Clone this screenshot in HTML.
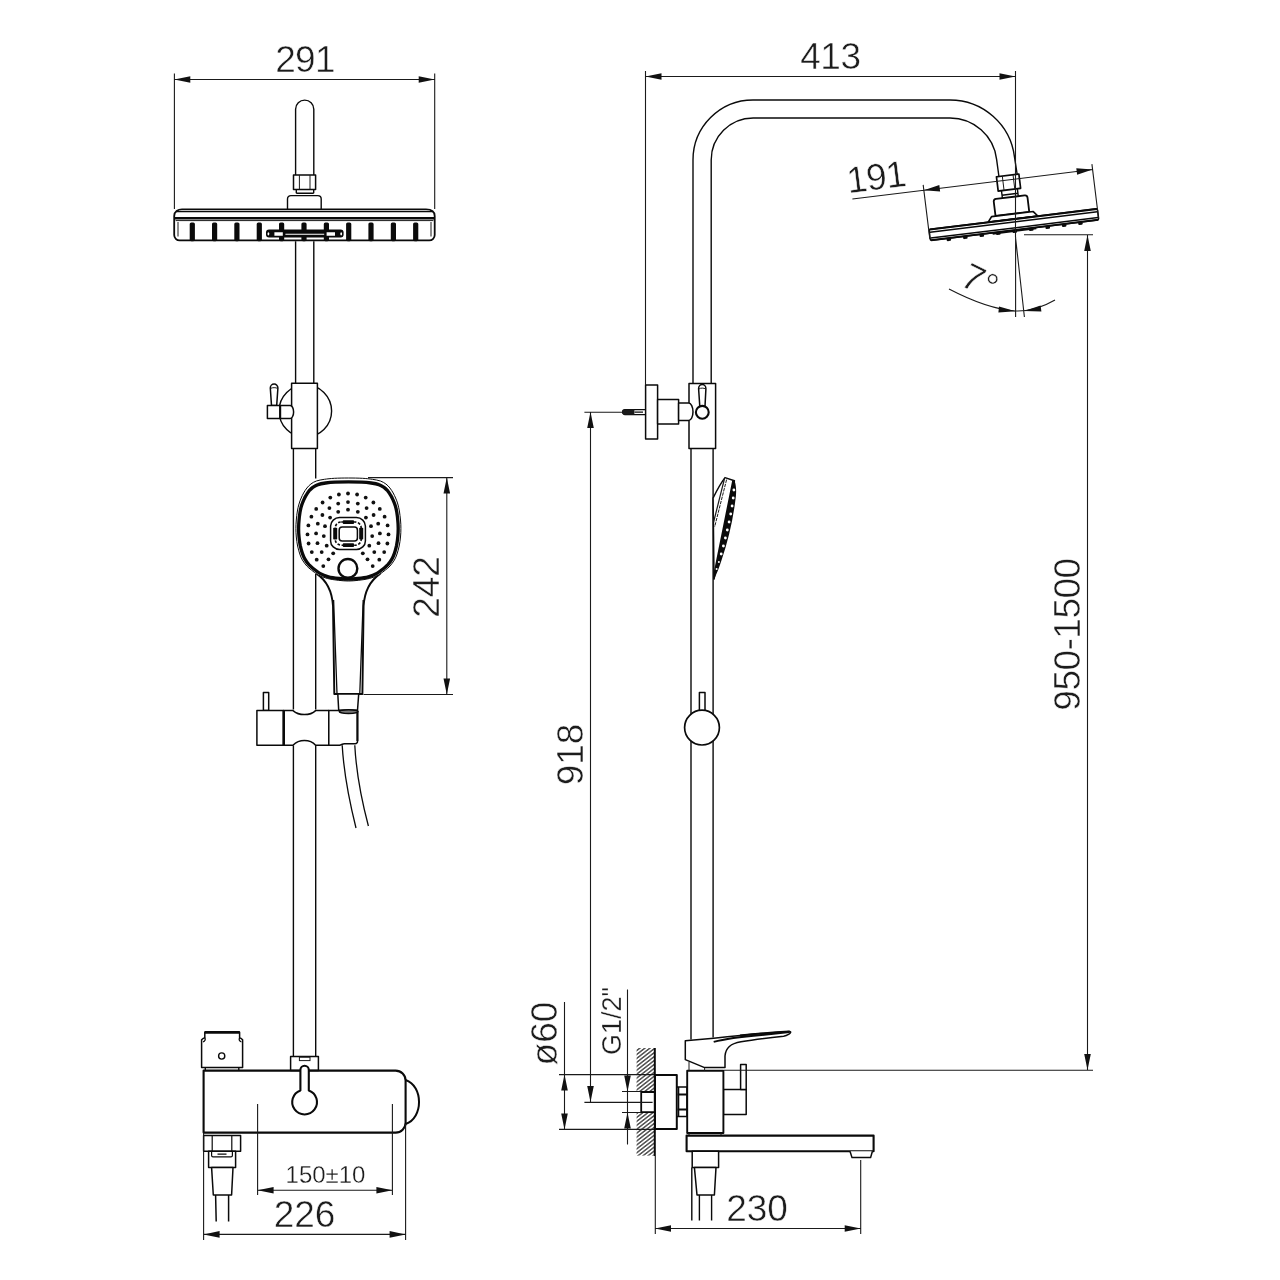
<!DOCTYPE html>
<html lang="en">
<head>
<meta charset="utf-8">
<title>Shower system dimensions</title>
<style>
html,body{margin:0;padding:0;background:#fff;}
body{width:1280px;height:1280px;overflow:hidden;font-family:"Liberation Sans",sans-serif;}
svg{display:block;width:1280px;height:1280px;filter:grayscale(1);}
.o{fill:none;stroke:#0a0a0a;stroke-width:1.4;stroke-linejoin:round;stroke-linecap:butt;}
.w{fill:#fff;stroke:#0a0a0a;stroke-width:1.5;stroke-linejoin:round;}
.k{fill:none;stroke:#0a0a0a;stroke-width:2.3;stroke-linejoin:round;}
.n{fill:none;stroke:#1a1a1a;stroke-width:1;}
.d{fill:none;stroke:#1a1a1a;stroke-width:1.1;}
.a{fill:#111;stroke:none;}
text{font-family:"Liberation Sans",sans-serif;fill:#1c1c1c;stroke:#fff;stroke-width:.5px;}
.b{font-size:37px;}
.s{font-size:24px;stroke-width:.3px;}
</style>
</head>
<body>
<svg width="1280" height="1280" viewBox="0 0 1280 1280">
<rect width="1280" height="1280" fill="#fff"/>
<!-- ===== LEFT VIEW : overhead shower ===== -->
<g id="left-head">
<path class="o" d="M295.6,175V109.2a9.1,9.1 0 0 1 18.2,0V175"/>
<rect class="w" x="293.5" y="175" width="22.1" height="14.4"/>
<path class="n" d="M299.4,175v14.4M310,175v14.4"/>
<path class="o" d="M296.3,189.4V193.3M313.7,189.4V193.3M296.3,193.3H313.7"/>
<path class="o" d="M287.5,209.4V199a3.4,3.4 0 0 1 3.4,-3.4H317.8a3.4,3.4 0 0 1 3.4,3.4V209.4"/>
<path class="w" style="stroke-width:1.8" d="M182,209.4H426C431,209.4 434.7,211.6 434.7,216V235a5.4,5.4 0 0 1 -5.4,5.4H179.6a5.4,5.4 0 0 1 -5.4,-5.4V216C174.2,211.6 178,209.4 182,209.4Z"/>
<path class="o" style="stroke-width:1.2" d="M176.4,211.6H432.6"/>
<path class="k" style="stroke-width:2.4" d="M174.6,218.2H434.2"/>
<path class="n" d="M175.6,220.6H433.4M178,222V236.5M431,222V236.5"/>
<g fill="#0a0a0a"><rect x="189.7" y="222.4" width="5.2" height="18.8" rx="1.6"/><rect x="212.0" y="222.4" width="5.2" height="18.8" rx="1.6"/><rect x="234.3" y="222.4" width="5.2" height="18.8" rx="1.6"/><rect x="256.7" y="222.4" width="5.2" height="18.8" rx="1.6"/><rect x="279.0" y="222.4" width="5.2" height="18.8" rx="1.6"/><rect x="301.4" y="222.4" width="5.2" height="18.8" rx="1.6"/><rect x="323.8" y="222.4" width="5.2" height="18.8" rx="1.6"/><rect x="346.1" y="222.4" width="5.2" height="18.8" rx="1.6"/><rect x="368.4" y="222.4" width="5.2" height="18.8" rx="1.6"/><rect x="390.8" y="222.4" width="5.2" height="18.8" rx="1.6"/><rect x="413.1" y="222.4" width="5.2" height="18.8" rx="1.6"/></g>
<rect x="266" y="229.4" width="77.6" height="8.2" rx="3" fill="#0a0a0a"/>
<path d="M274.4,232.2h8.4v3.6h-8.4ZM326.6,232.2h8.4v3.6h-8.4ZM285.4,233.8h38.8v.9h-38.8Z" fill="#fff"/>
<ellipse cx="268.4" cy="233.8" rx=".9" ry="1.6" fill="#fff"/><ellipse cx="341.2" cy="233.8" rx=".9" ry="1.6" fill="#fff"/>
<path class="o" d="M295.6,241.2V383M313.8,241.2V383"/>
</g>
<g id="left-bracket">
<circle class="o" cx="305.3" cy="411" r="26.3"/>
<rect class="w" x="291.6" y="383.2" width="25.8" height="65.4"/>
<path class="w" d="M271.5,405.4L270.3,388a3.8,3.9 0 0 1 7.6,0L276.7,405.4Z"/>
<path class="n" d="M270.6,388.4C272.5,387.4 275.7,387.4 277.6,388.4"/>
<rect class="w" x="267.4" y="405.4" width="12.8" height="13"/>
<path class="w" d="M280.2,405.4H290.2a3.4,6.5 0 0 1 0,13H280.2Z"/>
<path class="k" style="stroke-width:2" d="M280.2,405.4V418.4"/>
<path class="o" d="M293.4,448.6V709.5M315.7,448.6V478.5M315.7,574V709.5M293.4,745.5V1056.4M315.7,745.5V1056.4"/>
</g>
<!-- ===== LEFT VIEW : hand shower ===== -->
<g id="left-hand">
<path fill="#fff" d="M318,575H379L364,600L362.5,694H334L333,600Z"/>
<path class="o" style="stroke-width:1.9" d="M316.5,573.6C326,580 332,589 333,606L334.3,694H362.4L363.6,606C364.6,589 371,580 380.3,573.6"/>
<path class="o" style="stroke-width:1.3" d="M333.6,600L337,693.5M363.2,600L359.8,693.5"/>
<path class="w" style="stroke-width:1" d="M348.4,478.0C353.1,478.0 358.4,478.1 362.4,478.3C366.4,478.5 369.4,478.9 372.4,479.3C375.4,479.8 378.1,480.2 380.4,481.0C382.6,481.8 384.3,482.8 385.9,484.0C387.5,485.2 388.7,486.5 389.9,488.0C391.1,489.5 392.2,491.3 393.2,493.0C394.1,494.7 394.8,496.2 395.6,498.0C396.4,499.8 397.2,501.8 397.8,504.0C398.4,506.2 398.9,508.3 399.4,511.0C399.8,513.7 400.2,517.1 400.5,520.0C400.8,522.9 400.9,525.7 400.9,528.5C400.9,531.3 400.8,534.1 400.5,537.0C400.2,539.9 399.8,543.2 399.2,546.0C398.6,548.8 397.8,551.7 397.0,554.0C396.2,556.3 395.6,558.0 394.4,560.0C393.2,562.0 391.5,564.3 390.0,566.0C388.5,567.7 387.3,568.5 385.4,570.0C383.5,571.5 381.1,573.6 378.4,575.0C375.7,576.4 372.7,577.6 369.4,578.5C366.1,579.4 361.9,579.9 358.4,580.3C354.9,580.7 351.7,581.0 348.4,581.0C345.1,581.0 341.9,580.7 338.4,580.3C334.9,579.9 330.7,579.4 327.4,578.5C324.1,577.6 321.1,576.4 318.4,575.0C315.7,573.6 313.3,571.5 311.4,570.0C309.5,568.5 308.3,567.7 306.8,566.0C305.3,564.3 303.6,562.0 302.4,560.0C301.2,558.0 300.6,556.3 299.8,554.0C299.0,551.7 298.2,548.8 297.6,546.0C297.0,543.2 296.6,539.9 296.3,537.0C296.0,534.1 295.9,531.3 295.9,528.5C295.9,525.7 296.0,522.9 296.3,520.0C296.5,517.1 296.9,513.7 297.4,511.0C297.8,508.3 298.4,506.2 299.0,504.0C299.6,501.8 300.4,499.8 301.2,498.0C302.0,496.2 302.6,494.7 303.6,493.0C304.5,491.3 305.7,489.5 306.9,488.0C308.1,486.5 309.3,485.2 310.9,484.0C312.5,482.8 314.1,481.8 316.4,481.0C318.6,480.2 321.4,479.8 324.4,479.3C327.4,478.9 330.4,478.5 334.4,478.3C338.4,478.1 343.7,478.0 348.4,478.0Z"/>
<path class="o" style="stroke-width:3.3" d="M348.4,481.8C352.8,481.8 357.9,481.9 361.7,482.1C365.5,482.3 368.3,482.6 371.2,483.0C374.0,483.4 376.6,483.8 378.8,484.6C380.9,485.3 382.5,486.3 384.0,487.3C385.5,488.4 386.6,489.7 387.8,491.0C388.9,492.4 390.0,494.1 390.9,495.7C391.8,497.2 392.4,498.6 393.2,500.3C393.9,502.0 394.7,503.8 395.3,505.8C395.9,507.8 396.4,509.9 396.8,512.3C397.2,514.8 397.6,517.9 397.8,520.6C398.1,523.3 398.2,525.8 398.2,528.5C398.2,531.2 398.1,533.9 397.8,536.7C397.6,539.5 397.1,542.7 396.6,545.4C396.0,548.1 395.3,550.9 394.5,553.1C393.7,555.4 393.1,557.0 392.0,558.9C390.9,560.9 389.3,563.1 387.9,564.7C386.4,566.3 385.3,567.1 383.5,568.6C381.7,570.0 379.4,572.0 376.9,573.4C374.3,574.8 371.5,575.9 368.3,576.8C365.2,577.6 361.2,578.1 357.9,578.5C354.6,578.9 351.6,579.2 348.4,579.2C345.2,579.2 342.2,578.9 338.9,578.5C335.6,578.1 331.6,577.6 328.5,576.8C325.3,575.9 322.5,574.8 319.9,573.4C317.4,572.0 315.1,570.0 313.3,568.6C311.5,567.1 310.4,566.3 308.9,564.7C307.5,563.1 305.9,560.9 304.8,558.9C303.7,557.0 303.1,555.4 302.3,553.1C301.5,550.9 300.8,548.1 300.2,545.4C299.7,542.7 299.2,539.5 299.0,536.7C298.7,533.9 298.6,531.2 298.6,528.5C298.6,525.8 298.7,523.3 299.0,520.6C299.2,517.9 299.6,514.8 300.0,512.3C300.4,509.9 300.9,507.8 301.5,505.8C302.1,503.8 302.9,502.0 303.6,500.3C304.4,498.6 305.0,497.2 305.9,495.7C306.8,494.1 307.9,492.4 309.0,491.0C310.2,489.7 311.3,488.4 312.8,487.3C314.3,486.3 315.9,485.3 318.0,484.6C320.2,483.8 322.8,483.4 325.6,483.0C328.5,482.6 331.3,482.3 335.1,482.1C338.9,481.9 344.0,481.8 348.4,481.8Z"/>
<g fill="#111"><circle cx="323.3" cy="566.1" r="1.9"/><circle cx="316.7" cy="559.7" r="1.9"/><circle cx="311.8" cy="552.1" r="1.9"/><circle cx="308.6" cy="543.5" r="1.9"/><circle cx="307.5" cy="534.4" r="1.9"/><circle cx="308.4" cy="525.4" r="1.9"/><circle cx="311.4" cy="516.7" r="1.9"/><circle cx="316.2" cy="508.9" r="1.9"/><circle cx="322.6" cy="502.5" r="1.9"/><circle cx="330.3" cy="497.6" r="1.9"/><circle cx="338.9" cy="494.5" r="1.9"/><circle cx="348.0" cy="493.5" r="1.9"/><circle cx="357.1" cy="494.5" r="1.9"/><circle cx="365.7" cy="497.6" r="1.9"/><circle cx="373.4" cy="502.5" r="1.9"/><circle cx="379.8" cy="508.9" r="1.9"/><circle cx="384.6" cy="516.7" r="1.9"/><circle cx="387.6" cy="525.4" r="1.9"/><circle cx="388.5" cy="534.4" r="1.9"/><circle cx="387.4" cy="543.5" r="1.9"/><circle cx="384.2" cy="552.1" r="1.9"/><circle cx="379.3" cy="559.7" r="1.9"/><circle cx="372.7" cy="566.1" r="1.9"/><circle cx="328.5" cy="559.3" r="1.9"/><circle cx="321.7" cy="552.1" r="1.9"/><circle cx="317.5" cy="543.2" r="1.9"/><circle cx="316.1" cy="533.4" r="1.9"/><circle cx="317.8" cy="523.7" r="1.9"/><circle cx="322.4" cy="515.0" r="1.9"/><circle cx="329.4" cy="508.1" r="1.9"/><circle cx="338.2" cy="503.6" r="1.9"/><circle cx="348.0" cy="502.1" r="1.9"/><circle cx="357.8" cy="503.6" r="1.9"/><circle cx="366.6" cy="508.1" r="1.9"/><circle cx="373.6" cy="515.0" r="1.9"/><circle cx="378.2" cy="523.7" r="1.9"/><circle cx="379.9" cy="533.4" r="1.9"/><circle cx="378.5" cy="543.2" r="1.9"/><circle cx="374.3" cy="552.1" r="1.9"/><circle cx="367.5" cy="559.3" r="1.9"/><circle cx="333.2" cy="553.3" r="1.9"/><circle cx="326.7" cy="545.7" r="1.9"/><circle cx="323.8" cy="536.1" r="1.9"/><circle cx="325.0" cy="526.2" r="1.9"/><circle cx="330.1" cy="517.6" r="1.9"/><circle cx="338.2" cy="511.8" r="1.9"/><circle cx="348.0" cy="509.7" r="1.9"/><circle cx="357.8" cy="511.8" r="1.9"/><circle cx="365.9" cy="517.6" r="1.9"/><circle cx="371.0" cy="526.2" r="1.9"/><circle cx="372.2" cy="536.1" r="1.9"/><circle cx="369.3" cy="545.7" r="1.9"/><circle cx="362.8" cy="553.3" r="1.9"/></g>
<rect class="w" x="330.6" y="517.6" width="34.8" height="31.8" rx="9" ry="8.5"/>
<g fill="#0a0a0a">
<rect x="342.8" y="520.2" width="11.2" height="3.8" rx=".8"/><rect x="342.8" y="543.2" width="11.2" height="3.8" rx=".8"/>
<rect x="333.2" y="527.8" width="4" height="11.8" rx=".8"/><rect x="359.2" y="527.8" width="4" height="11.8" rx=".8"/>
</g>
<rect fill="none" stroke="#0a0a0a" stroke-width="1.6" stroke-dasharray="2.6 1.6" x="335.2" y="522" width="26" height="23.2" rx="6"/>
<rect class="w" x="339.2" y="527" width="18.2" height="14" rx="3"/>
<circle class="w" style="stroke-width:2.4" cx="347.9" cy="568.4" r="9.4"/>
<path class="w" d="M337.8,694L338.7,710.2H357.5L358.7,694Z"/>
</g>
<g id="left-slider">
<rect class="w" x="263.4" y="692.5" width="5.3" height="18.1"/>
<rect class="w" x="256.9" y="710.6" width="26.8" height="34.6"/>
<path class="w" d="M283.7,710.6H293C297,714.2 301,714.6 304.4,714.6C308,714.6 312,714.2 315.6,710.6H328.8V745.2H315.6C312,741.2 308,740.6 304.4,740.6C301,740.6 297,741.2 293,745.2H283.7Z"/>
<path class="k" style="stroke-width:2.6" d="M283.7,710.6V745.2"/>
<path class="w" d="M328.8,710.6H357.5V741.5a2.2,2.2 0 0 1 -2.2,2.2H344.5C342,743.7 341.5,745.2 339.5,745.2H328.8Z"/>
<path class="k" style="stroke-width:2" d="M357.4,711V741"/>
<ellipse cx="348.6" cy="711.6" rx="9.3" ry="1.9" fill="#777" stroke="#0a0a0a" stroke-width="1.6"/>
<path class="o" style="stroke-width:1.3" d="M342.2,745.2C343.5,768 349,800 356,828M354.8,745.2C356,768 361.5,800 368.4,826"/>
</g>
<!-- ===== LEFT VIEW : mixer ===== -->
<g id="left-mixer">
<rect class="w" x="290.6" y="1056.4" width="27.8" height="14.2"/>
<rect class="n" x="299.4" y="1057.2" width="10.6" height="3.4"/>
<path class="k" style="stroke-width:2.1" d="M203.6,1070.6H395.6a10,10 0 0 1 10,10V1122.6a10,10 0 0 1 -10,10H203.6Z"/>
<path class="k" style="stroke-width:2" d="M405.6,1080C423.5,1086 423.5,1118 405.6,1124"/>
<path class="w" style="stroke-width:2.1" d="M300.4,1090.4V1070a4.2,4.2 0 0 1 8.4,0V1090.4A12.4,12.4 0 1 1 300.4,1090.4Z"/>
<path class="w" d="M204.8,1032.2H239.6V1037.8C240.6,1038 241.4,1038.6 242.6,1039.8V1067.6H201.6V1039.8C202.8,1038.6 203.6,1038 204.8,1037.8Z"/>
<path class="o" style="stroke-width:1.3" d="M204.8,1037.8C205.8,1039.4 205,1041.6 203,1041.8M239.6,1037.8C238.6,1039.4 239.4,1041.6 241.4,1041.8"/>
<path class="k" style="stroke-width:2.6" d="M204.6,1032.4H239.8"/>
<path class="o" d="M205.3,1067.6V1070.6M238.8,1067.6V1070.6"/>
<circle class="o" cx="221.7" cy="1056" r="3.1"/>
<rect class="w" x="203.6" y="1135.6" width="37" height="15.6"/>
<path class="o" style="stroke-width:1.2" d="M212.2,1135.6V1151.2M231.8,1135.6V1151.2"/>
<path class="w" d="M208.6,1151.2H235.6V1167.6H208.6Z"/>
<path class="o" style="stroke-width:1.2" d="M211.6,1151.6V1155.4a1.4,1.4 0 0 0 1.4,1.4H231a1.4,1.4 0 0 0 1.4,-1.4V1151.6M217.5,1154.2H226.5"/>
<path class="w" d="M211.6,1167.6L213.3,1195H231.6L233,1167.6Z"/>
<path class="o" style="stroke-width:1.5" d="M215.6,1195L216.2,1221.6M228.6,1195L228.6,1221.6"/>
</g>
<!-- ===== LEFT VIEW : dimensions ===== -->
<g id="left-dims">
<path class="d" d="M174.4,73.5V209M434.7,73.5V209M174.3,79.5H434.7"/>
<path class="a" d="M174.3,79.5l16,-3.3v6.6ZM434.7,79.5l-16,-3.3v6.6Z"/>
<text class="b" x="305" y="72" text-anchor="middle" letter-spacing="-.7">291</text>
<path class="d" d="M368,477.6H453M363.5,694.5H453M446.8,477.6V694.5"/>
<path class="a" d="M446.8,477.6l-3.3,16h6.6ZM446.8,694.5l-3.3,-16h6.6Z"/>
<text class="b" transform="translate(439.4,587) rotate(-90)" text-anchor="middle">242</text>
<path class="d" d="M257.6,1104V1195M392.4,1104V1195M257.6,1190.2H392.4"/>
<path class="a" d="M257.6,1190.2l16,-3.3v6.6ZM392.4,1190.2l-16,-3.3v6.6Z"/>
<text class="s" x="325.5" y="1183" text-anchor="middle">150±10</text>
<path class="d" d="M203.6,1132.6V1240M405.6,1124V1240M203.6,1234.4H405.6"/>
<path class="a" d="M203.6,1234.4l16,-3.3v6.6ZM405.6,1234.4l-16,-3.3v6.6Z"/>
<text class="b" x="304.6" y="1227" text-anchor="middle">226</text>
</g>
<!-- ===== RIGHT VIEW : riser, arm and overhead shower (side) ===== -->
<g id="right-arm">
<path class="o" d="M693,383.5V160A60,60 0 0 1 753,100H950A65,65 0 0 1 1014.5,157.1L1017.5,176.5"/>
<path class="o" d="M711.2,383.5V160A42,42 0 0 1 753.2,118H950A47,47 0 0 1 996.6,159.3L999,177"/>
</g>
<g id="right-head" transform="translate(1013.7,224.6) rotate(-7)">
<rect class="w" style="stroke-width:1.7" x="-11.3" y="-49.6" width="22.6" height="14.4"/>
<path class="n" d="M-5.4,-49.6v14.4M5.4,-49.6v14.4"/>
<path class="o" d="M-8,-35.2V-30.6H8V-35.2M-8,-30.6V-27.6M8,-30.6V-27.6"/>
<path class="w" style="stroke-width:1.8" d="M-17,-10.8V-25a2.6,2.6 0 0 1 2.6,-2.6H14.4a2.6,2.6 0 0 1 2.6,2.6V-10.8Z"/>
<path class="w" style="stroke-width:1.7" d="M-25,-5.6L-21,-10.6H21L25,-5.6Z"/>
<rect class="w" x="-84.6" y="-5.6" width="169.6" height="11.2" rx="1.4"/>
<path class="o" style="stroke-width:2" d="M-84,-5.3H84.6"/>
<path class="o" style="stroke-width:1.5" d="M-84,-2.6H84.6M-84,3.3H84.6"/>
<path class="o" style="stroke-width:1.9" d="M-84,5.5H84.6"/>
<path class="o" style="stroke-width:1.6" d="M-22,6.6H22"/>
<g fill="#0a0a0a"><rect x="-68.5" y="5.6" width="4.6" height="2.8" rx="1.2"/><rect x="-51.9" y="5.6" width="4.6" height="2.8" rx="1.2"/><rect x="-35.3" y="5.6" width="4.6" height="2.8" rx="1.2"/><rect x="-18.7" y="5.6" width="4.6" height="2.8" rx="1.2"/><rect x="-2.1" y="5.6" width="4.6" height="2.8" rx="1.2"/><rect x="14.5" y="5.6" width="4.6" height="2.8" rx="1.2"/><rect x="31.1" y="5.6" width="4.6" height="2.8" rx="1.2"/><rect x="47.7" y="5.6" width="4.6" height="2.8" rx="1.2"/><rect x="64.1" y="5.6" width="4.6" height="2.8" rx="1.2"/></g>
<!-- dimension 191 (aligned with the head) -->
<path class="d" d="M-157,-45H85M-85,-50.5V4M85,-50.5V4"/>
<path class="a" d="M-85,-45l16,-3.3v6.6ZM85,-45l-16,-3.3v6.6Z"/>
<text class="b" x="-131" y="-51.4" text-anchor="middle" letter-spacing="-1">191</text>
</g>
<g id="right-angle">
<path class="d" d="M1015.6,237V317M1015.6,238L1024.4,317"/>
<path class="d" d="M949,289C972,301 994,309.5 1015.6,311C1030,311.5 1043,307 1055,300"/>
<path class="a" d="M1015.6,311.2l-16.6,-4.6l-.6,6ZM1024,311l16.6,-5.4l.8,6Z"/>
<text class="b" transform="translate(958.4,284.6) rotate(27)">7°</text>
</g>
<!-- ===== RIGHT VIEW : wall bracket, hand shower (side), slider ===== -->
<g id="right-bracket">
<path class="o" d="M691,448.6V1039.5M713.1,448.6V1037.5"/>
<rect class="w" x="689" y="383.5" width="26.6" height="65.1"/>
<rect class="w" x="645.6" y="385" width="12" height="54"/>
<rect class="w" x="657.6" y="399.6" width="21" height="24.4"/>
<path class="w" d="M678.6,403H688.6a4.4,8.8 0 0 1 0,17.6H678.6Z"/>
<path class="w" d="M699.8,406.4L698.6,388.8a3.65,4.2 0 0 1 7.3,0L705,406.4Z"/>
<path class="n" d="M699,389C700.6,387.8 703.8,387.8 705.6,389"/>
<circle class="w" style="stroke-width:2.1" cx="702.3" cy="412.3" r="6.4"/>
<path class="o" style="stroke-width:1.1" d="M645.6,409.6H625a2.5,2.5 0 0 0 0,5H645.6M634.5,412.1H643"/>
<path d="M624.8,409.4h9.6v5.4H624.8a2.7,2.7 0 0 1 0,-5.4Z" fill="#1a1a1a"/>
</g>
<g id="right-hand">
<path class="w" d="M713.1,498C717,490 720.5,483.5 725,477.6L734.4,480.8L714,579Z"/>
<path class="n" style="stroke-dasharray:3.4 1" d="M726.6,479.6L714.6,527"/>
<path class="n" style="stroke-width:1.2" d="M724.4,479L713.6,522"/>
<path d="M732.2,480.6L734.8,481.4C736.6,487 736.4,494 735.4,500C733,520 728,541 721.6,560C719.4,567 716.6,574 713.8,580L713.8,572Z" fill="#0a0a0a"/>
<g fill="#fff"><circle cx="733.9" cy="490.0" r="1.4"/><circle cx="733.2" cy="498.0" r="1.4"/><circle cx="732.1" cy="506.0" r="1.4"/><circle cx="730.7" cy="514.0" r="1.4"/><circle cx="729.1" cy="522.0" r="1.4"/><circle cx="727.3" cy="530.0" r="1.4"/><circle cx="725.4" cy="538.0" r="1.4"/><circle cx="723.4" cy="546.0" r="1.4"/><circle cx="721.2" cy="554.0" r="1.4"/><circle cx="718.9" cy="562.0" r="1.0"/><circle cx="716.6" cy="569.0" r="1.0"/></g>
</g>
<g id="right-slider">
<rect class="w" x="699.4" y="692.4" width="5.6" height="20"/>
<circle class="w" style="stroke-width:1.7" cx="702" cy="727.6" r="17.4"/>
</g>
<!-- ===== RIGHT VIEW : wall, mixer, spout ===== -->
<defs>
<pattern id="hatch" width="3.1" height="3.1" patternUnits="userSpaceOnUse" patternTransform="rotate(-38)">
<rect width="3.1" height="3.1" fill="#fff"/><path d="M0,1.55H3.1" stroke="#111" stroke-width="1.1"/>
</pattern>
</defs>
<g id="right-wall">
<rect x="636.6" y="1048" width="17.8" height="43.6" fill="url(#hatch)"/>
<rect x="636.6" y="1112.6" width="17.8" height="43" fill="url(#hatch)"/>
<path class="k" style="stroke-width:2" d="M654.8,1048V1156"/>
<path class="k" style="stroke-width:1.8" d="M654.4,1092H641.2V1112.2H654.4"/>

</g>
<g id="right-mixer">
<rect class="w" style="stroke-width:2" x="655" y="1075" width="21.8" height="54"/>
<path class="w" d="M677,1087H687V1116.4H677Z"/>
<path class="k" style="stroke-width:2" d="M677.6,1094.4H687M677.6,1109.4H687"/>
<path class="o" d="M678.6,1087V1116.4"/>
<rect class="w" x="723.4" y="1089.4" width="22.8" height="25.2"/>
<rect class="w" x="740.6" y="1064.6" width="5.6" height="24.8"/>
<rect class="w" style="stroke-width:1.9" x="687.2" y="1070.8" width="36.2" height="62.2"/>
<path class="n" d="M689,1133V1135.6M721,1133V1135.6"/>
<path class="w" d="M685.3,1040.8L713.7,1038.2C740,1035.4 765,1033 789.6,1031.4C791.4,1031.6 790.6,1033.2 789,1034.2C787,1035.4 785.6,1036 783.6,1036.3C768,1038 752,1040 741,1041.8C730,1043.6 725.6,1048 725,1056V1067.6H704.6L685.3,1059.6Z"/>
<path class="o" style="stroke-width:2" d="M713.7,1041.9C726,1038.6 745,1036.4 761.4,1035C772,1034 782,1032.9 789.6,1032"/>
<path class="o" style="stroke-width:2" d="M740,1035.6C757,1033.8 774,1032.4 789.6,1031.6"/>
<path class="n" d="M689,1062V1070.8M704.6,1068V1070.8"/>
<rect class="w" style="stroke-width:2.1" x="686.6" y="1135.6" width="187" height="15.6"/>
<path class="w" d="M850,1151.2L852,1157.6H870.6L872.4,1151.2"/>
<rect class="w" x="692.2" y="1151.2" width="26.4" height="16.2"/>
<path class="w" d="M694.4,1167.4L697,1195H714.4L716,1167.4Z"/>
<path class="o" d="M691.8,1167.4V1220.6M699.4,1195V1220.6M711.6,1195V1220.6"/>
</g>
<!-- ===== RIGHT VIEW : dimensions ===== -->
<g id="right-dims">
<path class="d" d="M645.5,71V385M1015.5,71V237M645.5,76.5H1015.5"/>
<path class="a" d="M645.5,76.5l16,-3.3v6.6ZM1015.5,76.5l-16,-3.3v6.6Z"/>
<text class="b" x="830.4" y="68.8" text-anchor="middle" letter-spacing="-.4">413</text>
<path class="d" d="M1024,234.8H1093M724,1070.2H1093M1087.5,235V1070"/>
<path class="a" d="M1087.5,235l-3.3,16h6.6ZM1087.5,1070l-3.3,-16h6.6Z"/>
<text class="b" transform="translate(1079.6,634.5) rotate(-90)" text-anchor="middle" letter-spacing="-.5">950-1500</text>
<path class="d" d="M584.4,412.2H622.4M584.4,1102.4H652.6M590.5,412V1102"/>
<path class="a" d="M590.5,412l-3.3,16h6.6ZM590.5,1102l-3.3,-16h6.6Z"/>
<text class="b" transform="translate(582.8,754.5) rotate(-90)" text-anchor="middle">918</text>
<path class="d" d="M559,1074.6H654M559,1129.4H654M564.5,1002V1129"/>
<path class="a" d="M564.5,1074.6l-3.3,16h6.6ZM564.5,1129.4l-3.3,-16h6.6Z"/>
<text class="b" transform="translate(557.4,1033.5) rotate(-90)" text-anchor="middle">ø60</text>
<path class="d" d="M622,1091.5H641M622,1112.5H641M627.5,989.6V1144.4"/>
<path class="a" d="M627.5,1091.5l-3.3,-16h6.6ZM627.5,1112.5l-3.3,16h6.6Z"/>
<text class="s" style="font-size:27px" transform="translate(620.6,1021) rotate(-90)" text-anchor="middle">G1/2"</text>
<path class="d" d="M655.3,1156V1234M860.7,1160V1234M655,1228.5H860.7"/>
<path class="a" d="M655,1228.5l16,-3.3v6.6ZM860.7,1228.5l-16,-3.3v6.6Z"/>
<text class="b" x="757" y="1221" text-anchor="middle">230</text>
</g>
</svg>
</body>
</html>
